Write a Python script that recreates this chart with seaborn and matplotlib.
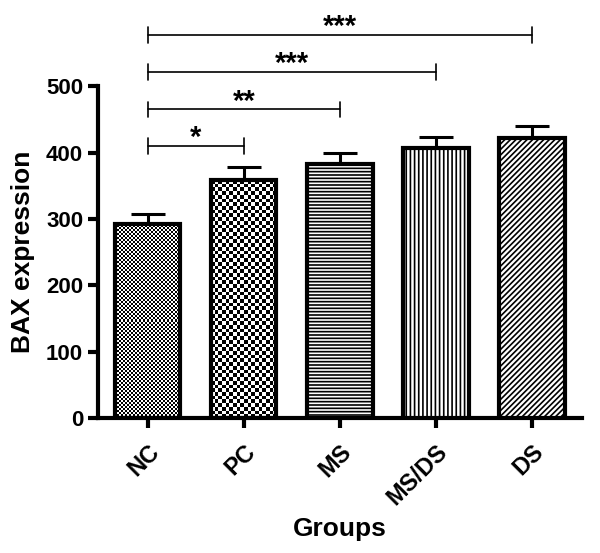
import numpy as np
import pandas as pd
import matplotlib
matplotlib.use("Agg")
import matplotlib.pyplot as plt
import seaborn as sns

# ---- data ----
groups = ["NC", "PC", "MS", "MS/DS", "DS"]
means = [293, 358, 383, 407, 422]
errs = [14, 20, 16, 16, 18]
yticks = [0, 100, 200, 300, 400, 500]
sig_left = ["NC", "NC", "NC", "NC"]
sig_right = ["PC", "MS", "MS/DS", "DS"]
sig_levels = [410, 465, 521, 577]
sig_labels = ["*", "**", "***", "***"]

sns.set_theme(style="ticks")
plt.rcParams["font.family"] = ["Liberation Sans", "DejaVu Sans"]
plt.rcParams["hatch.linewidth"] = 1.2
plt.rcParams["hatch.color"] = "black"
plt.rcParams["text.color"] = "black"
plt.rcParams["axes.labelcolor"] = "black"
plt.rcParams["xtick.color"] = "black"
plt.rcParams["ytick.color"] = "black"

fig = plt.figure(figsize=(6.0, 5.53), dpi=100)
ax = fig.add_axes([0.163, 0.244, 0.807, 0.6])

df = pd.DataFrame({"Group": groups, "BAX": means})
sns.barplot(data=df, x="Group", y="BAX", order=groups, color="white",
            edgecolor="black", linewidth=3, width=0.68, errorbar=None,
            ax=ax, zorder=3)

ax.set_xlim(-0.52, 4.52)
ax.set_ylim(0, 500)
ax.set_yticks(yticks)

hatches = [None, None, "-----", "||||", "//////"]
for p, h in zip(ax.patches, hatches):
    p.set_joinstyle("miter")
    if h:
        p.set_hatch(h)

# error bars (upper only)
centers = [p.get_x() + p.get_width() / 2 for p in ax.patches]
ax.errorbar(centers, means, yerr=[np.zeros(len(errs)), errs], fmt="none",
            ecolor="black", elinewidth=2.2, capsize=12, capthick=2.2, zorder=2)

# checkerboard fills for NC and PC
fig.canvas.draw()
cells = [2.0, 3.7]
for i, cell in enumerate(cells):
    p = ax.patches[i]
    x0, w, h = p.get_x(), p.get_width(), p.get_height()
    (dx0, dy0) = ax.transData.transform((x0, 0))
    (dx1, dy1) = ax.transData.transform((x0 + w, h))
    ncols = max(1, int(round((dx1 - dx0) / cell)))
    nrows = max(1, int(round((dy1 - dy0) / cell)))
    arr = np.add.outer(np.arange(nrows), np.arange(ncols)) % 2
    im = ax.imshow(arr, cmap="gray", extent=[x0, x0 + w, 0, h], aspect="auto",
                   interpolation="nearest", zorder=2.5, vmin=0, vmax=1)
    im.set_clip_path(p)
    p.set_facecolor("none")

ax.set_xlim(-0.52, 4.52)
ax.set_ylim(0, 500)

# significance brackets
d = 12
for l, r, lvl, lab in zip(sig_left, sig_right, sig_levels, sig_labels):
    a, b = groups.index(l), groups.index(r)
    ax.plot([a, b], [lvl, lvl], color="black", lw=1.2, clip_on=False)
    ax.plot([a, a], [lvl - d, lvl + d], color="black", lw=1.2, clip_on=False)
    ax.plot([b, b], [lvl - d, lvl + d], color="black", lw=1.2, clip_on=False)
    ax.annotate(lab, xy=((a + b) / 2, lvl), xytext=(0, 0),
                textcoords="offset points", ha="center", va="baseline",
                fontsize=21, fontweight="bold", annotation_clip=False)

for s in ["top", "right"]:
    ax.spines[s].set_visible(False)
for s in ["left", "bottom"]:
    ax.spines[s].set_linewidth(3)
    ax.spines[s].set_color("black")
ax.tick_params(axis="both", length=7, width=3, color="black", labelsize=16)
ax.tick_params(axis="x", pad=9)
for t in ax.get_yticklabels():
    t.set_fontweight("bold")
ax.set_xticks(range(len(groups)))
ax.set_xticklabels(groups, rotation=45, ha="right", rotation_mode="anchor",
                   fontweight="bold", fontsize=17)

ax.set_xlabel("Groups", fontsize=19, fontweight="bold", labelpad=5)
ax.set_ylabel("BAX expression", fontsize=19, fontweight="bold", labelpad=8)

fig.savefig("out.png", dpi=100)
